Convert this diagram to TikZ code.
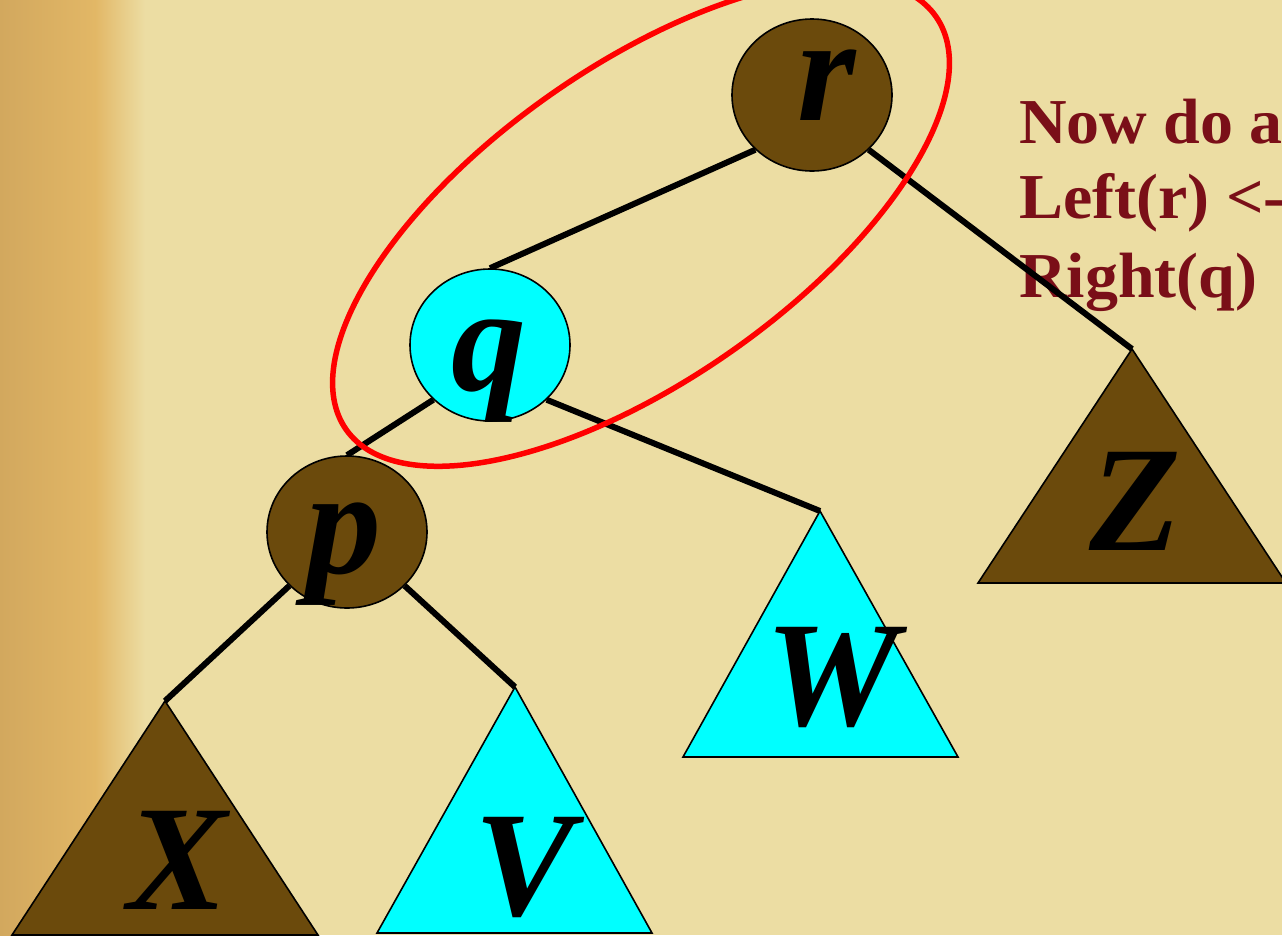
\documentclass[tikz,border=0pt]{standalone}
\usepackage{fontspec}
\setmainfont{Liberation Serif}
\newfontfamily\notefont[FakeStretch=1.03]{Liberation Serif}
\usetikzlibrary{shapes.geometric}
\definecolor{bgc}{RGB}{236,221,163}
\definecolor{bgl}{RGB}{210,168,94}
\definecolor{bgm}{RGB}{226,183,102}
\definecolor{brn}{RGB}{107,74,12}
\definecolor{cyn}{RGB}{0,255,255}
\definecolor{hl}{RGB}{255,0,0}
\definecolor{txtred}{RGB}{122,15,24}
\pgfdeclarelayer{bglayer}
\pgfdeclarelayer{edgelayer}
\pgfsetlayers{bglayer,edgelayer,main}
\begin{document}
\begin{tikzpicture}[x=1pt,y=-1pt,
  treenode/.style={ellipse, draw=black, line width=1.6pt, minimum width=160pt, minimum height=152pt, inner sep=0},
  letter/.style={font=\fontsize{150}{150}\selectfont\bfseries\itshape, anchor=base, inner sep=0, text=black},
  edgeline/.style={line width=6pt, black},
  tri/.style={draw=black, line width=1.6pt, line join=miter},
  note/.style={text=txtred, font=\notefont\fontsize{64}{77}\selectfont\bfseries, anchor=base west, inner sep=0}]
\useasboundingbox (0,0) rectangle (1282,935);
\clip (0,0) rectangle (1282,935);
\begin{pgfonlayer}{bglayer}
  \fill[bgc] (0,0) rectangle (1282,935);
  \shade[left color=bgl, right color=bgm] (0,0) rectangle (95,935);
  \shade[left color=bgm, right color=bgc] (95,0) rectangle (145,935);
  \node[note] (note1) at (1019,143) {Now do a};
  \node[note] (note2) at (1019,218) {Left(r) <-};
  \node[note] (note3) at (1019,297) {Right(q)};
\end{pgfonlayer}

% tree nodes
\node[treenode, fill=brn] (r) at (812,95) {};
\node[treenode, fill=cyn] (q) at (490,345) {};
\node[treenode, fill=brn] (p) at (347,532) {};

% subtree apexes
\coordinate (Zt) at (1132,349);
\coordinate (Wt) at (820,511);
\coordinate (Xt) at (165,701);
\coordinate (Vt) at (515,687);

% edges
\begin{pgfonlayer}{edgelayer}
  \draw[edgeline] (r.224) -- (q.north);
  \draw[edgeline] (r.316) -- (Zt);
  \draw[edgeline] (q.224) -- (p.north);
  \draw[edgeline] (q.316) -- (Wt);
  \draw[edgeline] (p.223) -- (Xt);
  \draw[edgeline] (p.317) -- (Vt);
\end{pgfonlayer}

% subtrees
\filldraw[tri, fill=brn] (Zt) -- (1286,583) -- (978,583) -- cycle;
\filldraw[tri, fill=cyn] (Wt) -- (958,757) -- (683,757) -- cycle;
\filldraw[tri, fill=brn] (Xt) -- (318,935) -- (12,935) -- cycle;
\filldraw[tri, fill=cyn] (Vt) -- (652,933) -- (377,933) -- cycle;

% letters
\node[letter] (rl) at (827,120) {r};
\node[letter] (ql) at (489,390) {q};
\node[letter] (pl) at (344,573) {p};
\node[letter] (Zl) at (1135,550) {Z};
\node[letter] (Wl) at (832,725) {W};
\node[letter] (Xl) at (178,909) {X};
\node[letter] (Vl) at (525,915) {V};

% highlight
\coordinate (ec) at (641,223);
\draw[hl, line width=5.5pt, rotate around={35:(ec)}] (ec) ellipse [x radius=360pt, y radius=157pt];
\end{tikzpicture}
\end{document}
